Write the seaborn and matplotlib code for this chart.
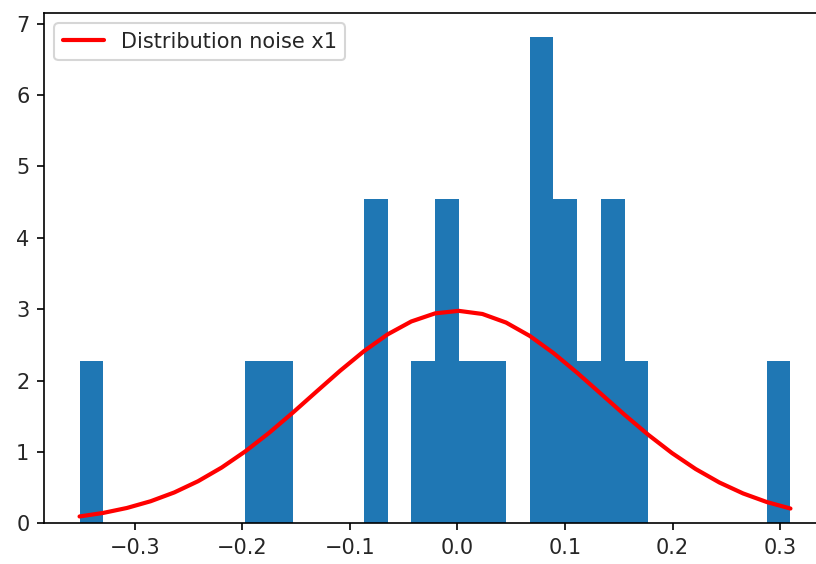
import numpy as np
import pandas as pd
import matplotlib
matplotlib.use("Agg")
import matplotlib.pyplot as plt
import seaborn as sns

# Observed noise samples
noise_x1 = [
    -0.3513, -0.186, -0.164, -0.081, -0.071, -0.031, -0.015, -0.006,
    0.012, 0.036, 0.072, 0.079, 0.085, 0.095, 0.104, 0.122,
    0.139, 0.148, 0.166, 0.3095,
]
n_bins = 30

# Parameters of the reference normal distribution
mu = 0.0
sigma = 0.134
curve_label = "Distribution noise x1"

sns.set_style("ticks")
plt.rcParams["font.family"] = ["DejaVu Sans"]
plt.rcParams["font.size"] = 10

fig = plt.figure(figsize=(5.44, 3.76), dpi=150)
W, H = 816, 564
ax = fig.add_axes([44 / W, (H - 523.3) / H, 782 / W, (523.3 - 13) / H])

df = pd.DataFrame({"noise": noise_x1})
sns.histplot(data=df, x="noise", bins=n_bins, stat="density",
             color="#1f77b4", alpha=1.0, linewidth=0, ax=ax)

edges = np.histogram_bin_edges(np.asarray(noise_x1), bins=n_bins)
pdf = 1 / (sigma * np.sqrt(2 * np.pi)) * np.exp(-(edges - mu) ** 2 / (2 * sigma ** 2))
sns.lineplot(x=edges, y=pdf, color="red", linewidth=2, label=curve_label,
             sort=False, ax=ax)

ax.set_xlabel("")
ax.set_ylabel("")
ax.margins(x=0.05, y=0.05)
ax.set_ylim(0, None)
for s in ax.spines.values():
    s.set_visible(True)
    s.set_linewidth(0.8)
    s.set_color("black")
ax.tick_params(direction="out", length=3.5, width=0.8, colors="black", labelcolor="#262626")
ax.legend(loc="upper left", frameon=True, fontsize=10)

fig.savefig("out.png", dpi=150)
